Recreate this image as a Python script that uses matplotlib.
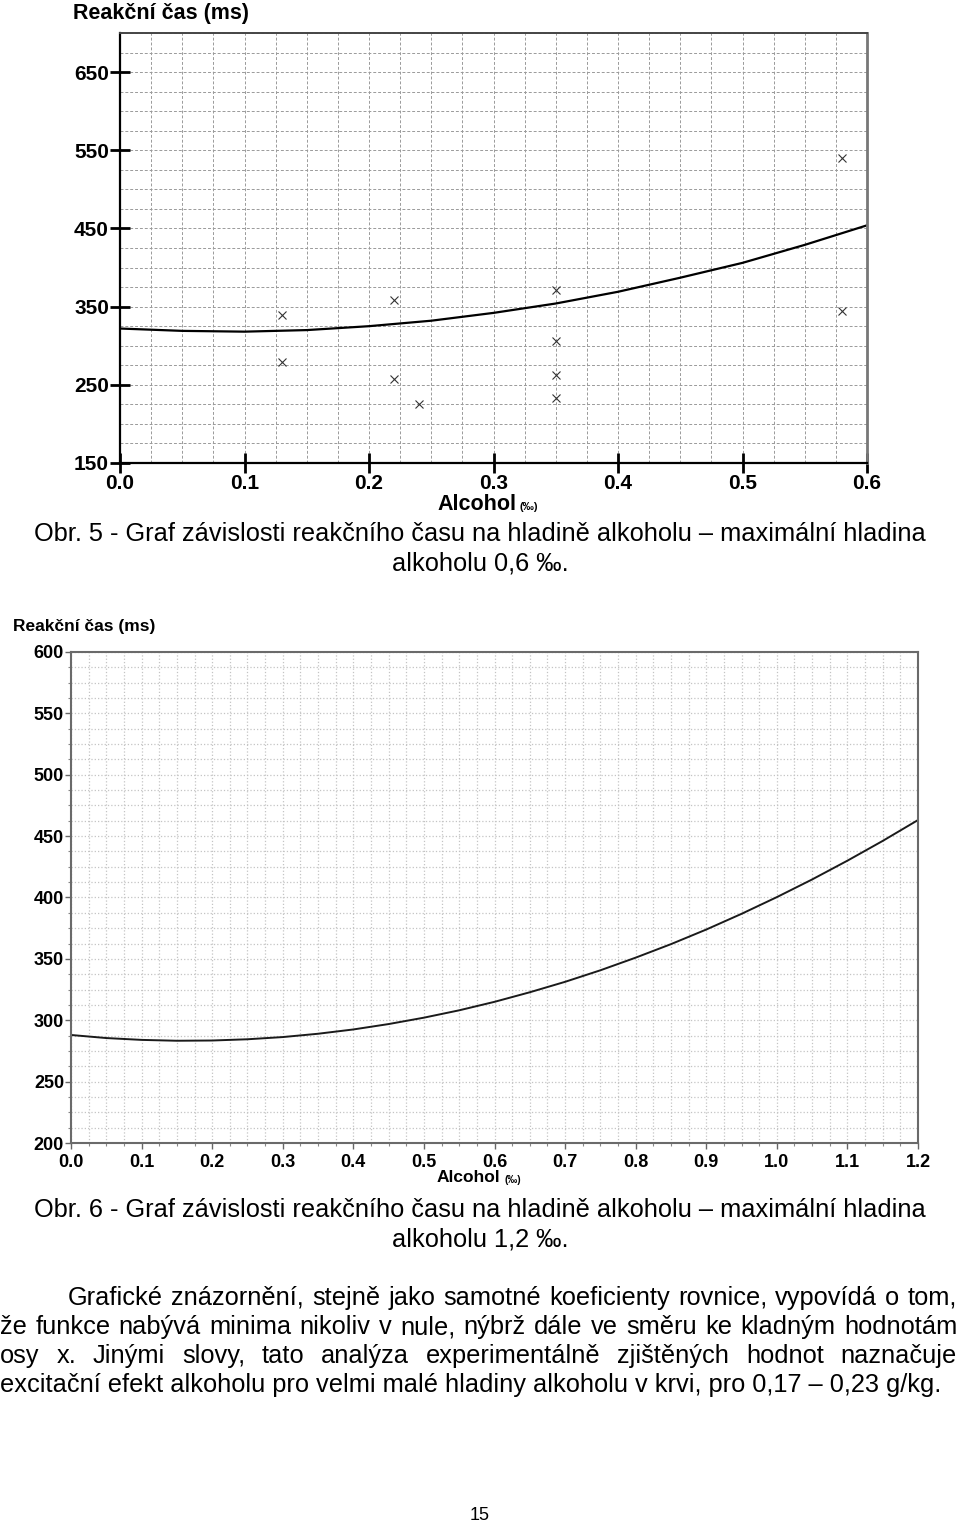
import matplotlib
matplotlib.use('Agg')
import matplotlib.pyplot as plt
from matplotlib import font_manager
from matplotlib.ticker import MultipleLocator

# Obr. 5 - measured reaction times (alcohol in per mille, time in ms)
alc5 = [0.13, 0.13, 0.22, 0.22, 0.24, 0.35, 0.35, 0.35, 0.35, 0.58, 0.58]
rt5 = [339, 279, 359, 257, 225, 371, 306, 263, 233, 540, 344]

# Obr. 5 - fitted curve, every 0.05
curve5_x = [0.0, 0.05, 0.1, 0.15, 0.2, 0.25, 0.3, 0.35, 0.4, 0.45, 0.5, 0.55, 0.6]
curve5_y = [322, 319, 318, 320, 325, 332, 342, 354, 369, 387, 406, 429, 454]

# Obr. 6 - fitted curve, every 0.05
curve6_x = [0.0, 0.05, 0.1, 0.15, 0.2, 0.25, 0.3, 0.35, 0.4, 0.45, 0.5, 0.55, 0.6,
            0.65, 0.7, 0.75, 0.8, 0.85, 0.9, 0.95, 1.0, 1.05, 1.1, 1.15, 1.2]
curve6_y = [288, 285.5, 284, 283.3, 283.5, 284.5, 286.3, 289, 292.5, 296.9, 302.1, 308.1, 315,
            322.8, 331.3, 340.7, 351, 362, 373.9, 386.7, 400.3, 414.7, 430, 446.1, 463.1]

x5_ticks = [0.0, 0.1, 0.2, 0.3, 0.4, 0.5, 0.6]
y5_ticks = [150, 250, 350, 450, 550, 650]
x6_ticks = [0.0, 0.1, 0.2, 0.3, 0.4, 0.5, 0.6, 0.7, 0.8, 0.9, 1.0, 1.1, 1.2]
y6_ticks = [200, 250, 300, 350, 400, 450, 500, 550, 600]

y_title = 'Reakční čas (ms)'
x_title = 'Alcohol'
x_unit = '(‰)'
caption5 = ['Obr. 5 - Graf závislosti reakčního času na hladině alkoholu – maximální hladina',
            'alkoholu 0,6 ‰.']
caption6 = ['Obr. 6 - Graf závislosti reakčního času na hladině alkoholu – maximální hladina',
            'alkoholu 1,2 ‰.']
paragraph = ['Grafické znázornění, stejně jako samotné koeficienty rovnice, vypovídá o tom,',
             'že funkce nabývá minima nikoliv v nule, nýbrž dále ve směru ke kladným hodnotám',
             'osy x. Jinými slovy, tato analýza experimentálně zjištěných hodnot naznačuje',
             'excitační efekt alkoholu pro velmi malé hladiny alkoholu v krvi, pro 0,17 – 0,23 g/kg.']
page_no = '15'

W, H = 960, 1525
SANS = 'Liberation Sans'
have = {f.name for f in font_manager.fontManager.ttflist}
NARROW = 'Liberation Sans Narrow' if 'Liberation Sans Narrow' in have else SANS
plt.rcParams['font.family'] = [SANS, 'DejaVu Sans']

fig = plt.figure(figsize=(W / 100, H / 100), dpi=100)
renderer = fig.canvas.get_renderer()


def fx(px):
    return px / W


def fy(py):
    return 1 - py / H


def put(px, py, s, **kw):
    return fig.text(fx(px), fy(py), s, **kw)


def width_of(t):
    return t.get_window_extent(renderer).width


def fit_size(s, target, size, family):
    # scale font size so the line is target pixels wide
    t = put(0, 0, s, fontsize=size, family=family)
    w = width_of(t)
    t.remove()
    return size * target / w


def justify(s, py, x0, x1, size, family):
    words = s.split(' ')
    texts = [put(0, py, w, fontsize=size, family=family, va='center') for w in words]
    widths = [width_of(t) for t in texts]
    gap = (x1 - x0 - sum(widths)) / (len(words) - 1)
    x = x0
    for t, w in zip(texts, widths):
        t.set_x(fx(x))
        x += w + gap


# ---------- Obr. 5 ----------
ax1 = fig.add_axes([fx(120), fy(463), (867 - 120) / W, (463 - 33) / H])
ax1.set_axisbelow(True)
ax1.plot(curve5_x, curve5_y, color='black', lw=1.6)
ax1.plot(alc5, rt5, ls='none', marker='x', ms=6, mew=0.8, color='#333333')
ax1.set_xlim(0, 0.6)
ax1.set_ylim(150, 700)
ax1.set_xticks(x5_ticks)
ax1.set_xticklabels(['%.1f' % v for v in x5_ticks], fontweight='bold', fontsize=15)
ax1.set_yticks(y5_ticks)
ax1.set_yticklabels([str(v) for v in y5_ticks], fontweight='bold', fontsize=15)
ax1.xaxis.set_minor_locator(MultipleLocator(0.025))
ax1.yaxis.set_minor_locator(MultipleLocator(25))
ax1.grid(which='both', color='#9a9a9a', lw=0.7, ls=(0, (3, 2)))
ax1.tick_params(which='major', direction='inout', length=14, width=2, color='black')
ax1.tick_params(axis='x', which='major', pad=1)
ax1.tick_params(axis='y', which='major', pad=1)
ax1.tick_params(which='minor', length=0)
for side in ['left', 'bottom']:
    ax1.spines[side].set_color('black')
    ax1.spines[side].set_linewidth(1.6)
ax1.spines['top'].set_color('#444444')
ax1.spines['top'].set_linewidth(1.4)
ax1.spines['right'].set_color('#777777')
ax1.spines['right'].set_linewidth(2)

put(73, 14, y_title, fontsize=15.5, fontweight='bold', va='center')
put(516, 505, x_title, fontsize=15.5, fontweight='bold', va='center', ha='right')
put(520, 507, x_unit, fontsize=8, fontweight='bold', va='center', ha='left')

cap_size = fit_size(caption5[0], 890, 16, SANS)
put(480, 534, caption5[0], fontsize=cap_size, ha='center', va='center')
put(480, 564, caption5[1], fontsize=cap_size, ha='center', va='center')

# ---------- Obr. 6 ----------
ax2 = fig.add_axes([fx(71), fy(1143), (918 - 71) / W, (1143 - 652) / H])
ax2.set_axisbelow(True)
ax2.plot(curve6_x, curve6_y, color='#1a1a1a', lw=1.4)
ax2.set_xlim(0, 1.2)
ax2.set_ylim(200, 600)
ax2.set_xticks(x6_ticks)
ax2.set_xticklabels(['%.1f' % v for v in x6_ticks], fontweight='bold', fontsize=13)
ax2.set_yticks(y6_ticks)
ax2.set_yticklabels([str(v) for v in y6_ticks], fontweight='bold', fontsize=13)
ax2.xaxis.set_minor_locator(MultipleLocator(0.025))
ax2.yaxis.set_minor_locator(MultipleLocator(12.5))
ax2.grid(which='both', color='#c4c4c4', lw=0.9, ls=':')
ax2.tick_params(which='major', direction='out', length=4, width=1, color='#666666')
ax2.tick_params(which='minor', direction='out', length=2.5, width=0.8, color='#888888')
ax2.tick_params(axis='x', which='major', pad=4)
ax2.tick_params(axis='y', which='major', pad=1)
for side in ax2.spines:
    ax2.spines[side].set_color('#6a6a6a')
    ax2.spines[side].set_linewidth(1.5)

put(13, 626, y_title, fontsize=12.5, fontweight='bold', va='center')
put(500, 1178, x_title, fontsize=12.5, fontweight='bold', va='center', ha='right')
put(505, 1180, x_unit, fontsize=7, fontweight='bold', va='center', ha='left')

cap6_size = fit_size(caption6[0], 890, 16, NARROW)
put(480, 1210, caption6[0], fontsize=cap6_size, family=NARROW, ha='center', va='center')
put(480, 1240, caption6[1], fontsize=cap6_size, family=NARROW, ha='center', va='center')

# ---------- body text ----------
par_size = fit_size(paragraph[3], 940, 14.5, NARROW)
justify(paragraph[0], 1298, 68, 957, par_size, NARROW)
justify(paragraph[1], 1327, 0, 957, par_size, NARROW)
justify(paragraph[2], 1356, 0, 957, par_size, NARROW)
put(0, 1385, paragraph[3], fontsize=par_size, family=NARROW, va='center')

put(480, 1515, page_no, fontsize=13, ha='center', va='center')

fig.savefig('out.png', dpi=100)
